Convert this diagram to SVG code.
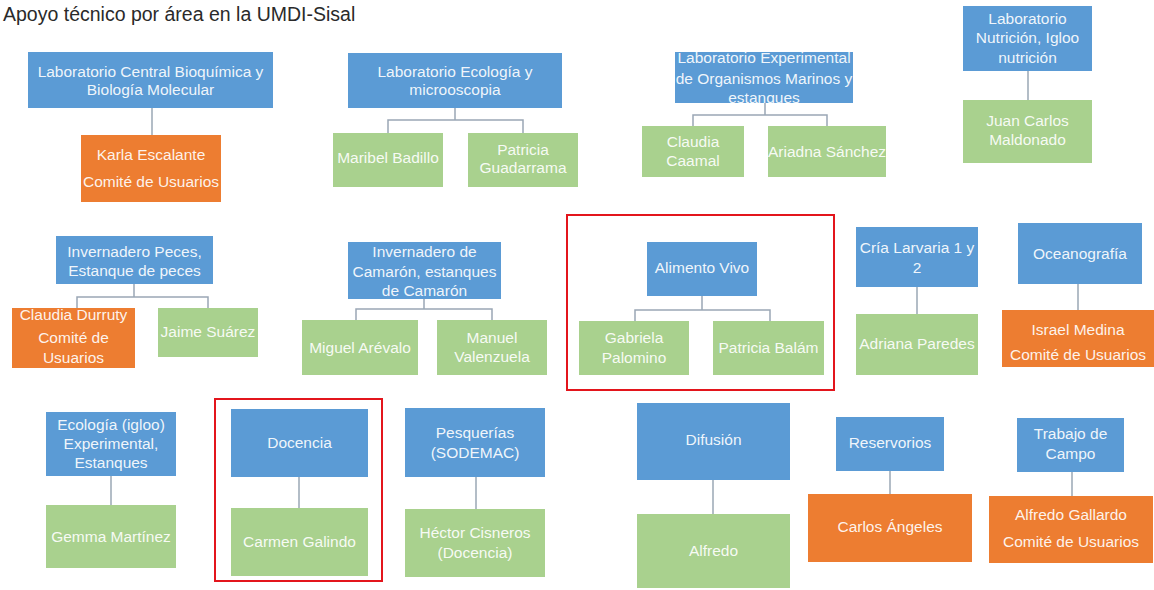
<svg xmlns="http://www.w3.org/2000/svg" width="1154" height="590" viewBox="0 0 1154 590">
<style>
.b{fill:#5b9bd5}
.g{fill:#a9d18e}
.o{fill:#ed7d31}
.t{font-family:"Liberation Sans",Arial,sans-serif;font-size:15.5px;fill:#ffffff;fill-opacity:0.92;text-anchor:middle}
.c{fill:none;stroke:#9aa7b5;stroke-width:1.5}
.r{fill:none;stroke:#e3151c;stroke-width:2}
.title{font-family:"Liberation Sans",Arial,sans-serif;font-size:19.5px;fill:#2a2a2a}
</style>
<rect width="1154" height="590" fill="#ffffff"/>
<text class="title" x="3" y="21">Apoyo técnico por área en la UMDI-Sisal</text>

<g id="connectors">
<path class="c" d="M152,108V135"/>
<path class="c" d="M455,108V120M388,133V120H523V133"/>
<path class="c" d="M765,103V115M693,126V115H827V126"/>
<path class="c" d="M1028,71V100"/>
<path class="c" d="M134,284V297M77,308V297H208V308"/>
<path class="c" d="M424,299V309M356,320V309H492V320"/>
<path class="c" d="M702,296V310M635,321V310H770V321"/>
<path class="c" d="M917,287V314"/>
<path class="c" d="M1078,284V310"/>
<path class="c" d="M111,476V505"/>
<path class="c" d="M299,477V508"/>
<path class="c" d="M476,477V509"/>
<path class="c" d="M713,480V514"/>
<path class="c" d="M890,471V494"/>
<path class="c" d="M1072,472V496"/>
</g>

<g id="highlights">
<rect class="r" x="567" y="215" width="267" height="175"/>
<rect class="r" x="215" y="399" width="167" height="182"/>
</g>

<g id="n-lab-central"><rect class="b" x="28" y="52" width="245" height="56"/><text class="t" x="150.5" y="77">Laboratorio Central Bioquímica y</text><text class="t" x="150.5" y="95">Biología  Molecular</text></g>
<g id="n-karla"><rect class="o" x="81" y="135" width="140" height="67"/><text class="t" x="151" y="160">Karla Escalante</text><text class="t" x="151" y="187">Comité de Usuarios</text></g>

<g id="n-lab-eco"><rect class="b" x="348" y="53" width="214" height="55"/><text class="t" x="455" y="77">Laboratorio Ecología y</text><text class="t" x="455" y="95">microoscopia</text></g>
<g id="n-maribel"><rect class="g" x="333" y="133" width="110" height="54"/><text class="t" x="388" y="163">Maribel Badillo</text></g>
<g id="n-patricia-g"><rect class="g" x="468" y="133" width="110" height="54"/><text class="t" x="523" y="155">Patricia</text><text class="t" x="523" y="173">Guadarrama</text></g>

<g id="n-lab-exp"><rect class="b" x="675" y="52" width="178" height="51"/><text class="t" x="764" y="63">Laboratorio Experimental</text><text class="t" x="764" y="84">de Organismos Marinos y</text><text class="t" x="764" y="103">estanques</text></g>
<g id="n-claudia-c"><rect class="g" x="642" y="126" width="102" height="51"/><text class="t" x="693" y="147">Claudia</text><text class="t" x="693" y="166">Caamal</text></g>
<g id="n-ariadna"><rect class="g" x="768" y="126" width="118" height="51"/><text class="t" x="827" y="157">Ariadna Sánchez</text></g>

<g id="n-lab-nut"><rect class="b" x="963" y="6" width="129" height="65"/><text class="t" x="1027.5" y="24">Laboratorio</text><text class="t" x="1027.5" y="43">Nutrición, Igloo</text><text class="t" x="1027.5" y="63">nutrición</text></g>
<g id="n-juan"><rect class="g" x="963" y="100" width="129" height="63"/><text class="t" x="1027.5" y="126">Juan Carlos</text><text class="t" x="1027.5" y="145">Maldonado</text></g>

<g id="n-inv-peces"><rect class="b" x="56" y="236" width="157" height="48"/><text class="t" x="134.5" y="257">Invernadero Peces,</text><text class="t" x="134.5" y="276">Estanque de peces</text></g>
<g id="n-claudia-d"><rect class="o" x="12" y="308" width="123" height="60"/><text class="t" x="73.5" y="320">Claudia Durruty</text><text class="t" x="73.5" y="343">Comité de</text><text class="t" x="73.5" y="363">Usuarios</text></g>
<g id="n-jaime"><rect class="g" x="158" y="308" width="100" height="49"/><text class="t" x="208" y="337">Jaime Suárez</text></g>

<g id="n-inv-cam"><rect class="b" x="348" y="242" width="153" height="57"/><text class="t" x="424.5" y="257">Invernadero de</text><text class="t" x="424.5" y="277">Camarón, estanques</text><text class="t" x="424.5" y="296">de Camarón</text></g>
<g id="n-miguel"><rect class="g" x="302" y="320" width="116" height="55"/><text class="t" x="360" y="353">Miguel  Arévalo</text></g>
<g id="n-manuel"><rect class="g" x="437" y="320" width="110" height="55"/><text class="t" x="492" y="343">Manuel</text><text class="t" x="492" y="362">Valenzuela</text></g>

<g id="n-alimento"><rect class="b" x="647" y="242" width="110" height="54"/><text class="t" x="702" y="273">Alimento Vivo</text></g>
<g id="n-gabriela"><rect class="g" x="579" y="321" width="110" height="54"/><text class="t" x="634" y="343">Gabriela</text><text class="t" x="634" y="363">Palomino</text></g>
<g id="n-patricia-b"><rect class="g" x="713" y="321" width="111" height="54"/><text class="t" x="768.5" y="353">Patricia Balám</text></g>

<g id="n-cria"><rect class="b" x="856" y="227" width="122" height="60"/><text class="t" x="917" y="253">Cría Larvaria 1 y</text><text class="t" x="917" y="273">2</text></g>
<g id="n-adriana"><rect class="g" x="856" y="314" width="122" height="61"/><text class="t" x="917" y="349">Adriana Paredes</text></g>

<g id="n-ocean"><rect class="b" x="1018" y="223" width="124" height="61"/><text class="t" x="1080" y="259">Oceanografía</text></g>
<g id="n-israel"><rect class="o" x="1002" y="310" width="152" height="57"/><text class="t" x="1078" y="335">Israel Medina</text><text class="t" x="1078" y="360">Comité de Usuarios</text></g>

<g id="n-eco-igloo"><rect class="b" x="46" y="412" width="130" height="64"/><text class="t" x="111" y="430">Ecología (igloo)</text><text class="t" x="111" y="449">Experimental,</text><text class="t" x="111" y="468">Estanques</text></g>
<g id="n-gemma"><rect class="g" x="46" y="505" width="130" height="63"/><text class="t" x="111" y="542">Gemma Martínez</text></g>

<g id="n-docencia"><rect class="b" x="231" y="409" width="137" height="68"/><text class="t" x="299.5" y="448">Docencia</text></g>
<g id="n-carmen"><rect class="g" x="231" y="508" width="137" height="68"/><text class="t" x="299.5" y="547">Carmen Galindo</text></g>

<g id="n-pesq"><rect class="b" x="405" y="408" width="140" height="69"/><text class="t" x="475" y="438">Pesquerías</text><text class="t" x="475" y="458">(SODEMAC)</text></g>
<g id="n-hector"><rect class="g" x="405" y="509" width="140" height="68"/><text class="t" x="475" y="538">Héctor Cisneros</text><text class="t" x="475" y="558">(Docencia)</text></g>

<g id="n-difusion"><rect class="b" x="637" y="403" width="153" height="77"/><text class="t" x="713.5" y="445">Difusión</text></g>
<g id="n-alfredo"><rect class="g" x="637" y="514" width="153" height="74"/><text class="t" x="713.5" y="556">Alfredo</text></g>

<g id="n-reserv"><rect class="b" x="836" y="417" width="108" height="54"/><text class="t" x="890" y="448">Reservorios</text></g>
<g id="n-carlos"><rect class="o" x="808" y="494" width="164" height="68"/><text class="t" x="890" y="532">Carlos Ángeles</text></g>

<g id="n-trabajo"><rect class="b" x="1017" y="418" width="107" height="54"/><text class="t" x="1070.5" y="439">Trabajo de</text><text class="t" x="1070.5" y="459">Campo</text></g>
<g id="n-alfredo-g"><rect class="o" x="989" y="496" width="164" height="67"/><text class="t" x="1071" y="520">Alfredo Gallardo</text><text class="t" x="1071" y="547">Comité de Usuarios</text></g>
</svg>
